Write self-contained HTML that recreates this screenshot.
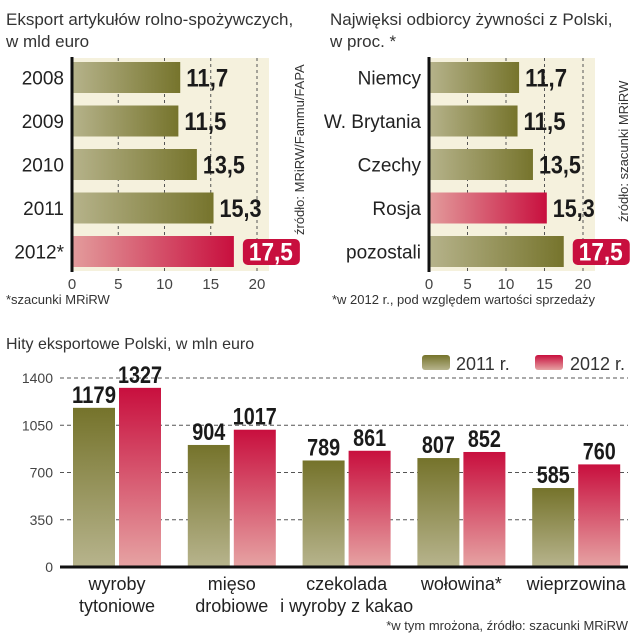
<!DOCTYPE html>
<html><head><meta charset="utf-8"><style>
body{margin:0;background:#fff;}
svg{display:block;font-family:"Liberation Sans",sans-serif;}
.t{font-size:17px;fill:#333;}
.lab{font-size:19px;fill:#222;}
.val{font-family:"Liberation Sans Narrow","Liberation Sans",sans-serif;font-weight:bold;font-size:25px;fill:#1a1a1a;}
.tick{font-size:15px;fill:#444;}
.small{font-size:13px;fill:#333;}
</style></head><body>
<svg id="c" width="640" height="640" viewBox="0 0 640 640">
<defs>
<linearGradient id="gh" x1="0" x2="1" y1="0" y2="0"><stop offset="0" stop-color="#b6b38b"/><stop offset="1" stop-color="#76742c"/></linearGradient>
<linearGradient id="rh" x1="0" x2="1" y1="0" y2="0"><stop offset="0" stop-color="#e39c9c"/><stop offset="1" stop-color="#c80f3e"/></linearGradient>
<linearGradient id="gv" x1="0" x2="0" y1="0" y2="1"><stop offset="0" stop-color="#75732b"/><stop offset="1" stop-color="#b7b48d"/></linearGradient>
<linearGradient id="rv" x1="0" x2="0" y1="0" y2="1"><stop offset="0" stop-color="#c80f3e"/><stop offset="1" stop-color="#e6a3a3"/></linearGradient>
</defs>
<text class="t" x="6" y="25">Eksport artykułów rolno-spożywczych,</text>
<text class="t" x="6" y="47">w mld euro</text>
<text class="t" x="330" y="25">Najwięksi odbiorcy  żywności z Polski,</text>
<text class="t" x="330" y="47">w proc. *</text>
<text class="small" transform="translate(304,235) rotate(-90)">źródło: MRiRW/Fammu/FAPA</text>
<text class="small" transform="translate(628,222) rotate(-90)">źródło: szacunki MRiRW</text>
<text class="small" x="6" y="304">*szacunki MRiRW</text>
<text class="small" x="332" y="304">*w 2012 r., pod względem wartości sprzedaży</text>
<text class="t" x="6" y="349" style="font-size:16px">Hity eksportowe Polski, w mln euro</text>
<rect x="422" y="355" width="28" height="15" rx="3" fill="url(#gv)"/>
<text class="t" x="456" y="370" style="font-size:18px">2011 r.</text>
<rect x="535" y="355" width="28" height="15" rx="3" fill="url(#rv)"/>
<text class="t" x="570" y="370" style="font-size:18px">2012 r.</text>
<text class="small" x="628" y="630" text-anchor="end">*w tym mrożona, źródło: szacunki MRiRW</text>
</svg>
<script>
const leftCats=["2008","2009","2010","2011","2012*"];
const leftVals=[11.7,11.5,13.5,15.3,17.5];
const rightCats=["Niemcy","W. Brytania","Czechy","Rosja","pozostali"];
const rightVals=[11.7,11.5,13.5,15.3,17.5];
const rightRed=[false,false,false,true,false];
const hTicks=[0,5,10,15,20];
const bCats=[["wyroby","tytoniowe"],["mięso","drobiowe"],["czekolada","i wyroby z kakao"],["wołowina*"],["wieprzowina"]];
const v2011=[1179,904,789,807,585];
const v2012=[1327,1017,861,852,760];
const yTicks=[0,350,700,1050,1400];

const svg=document.getElementById('c');
const NS="http://www.w3.org/2000/svg";
function mk(tag,attrs,parent){const e=document.createElementNS(NS,tag);for(const k in attrs)e.setAttribute(k,attrs[k]);(parent||svg).appendChild(e);return e;}

function hchart(prefix,cats,vals,x0,pxPer,lastRed,redBars){
  const g=mk('g',{});
  
  
  const bg=mk('rect',{x:x0,y:58,width:20*pxPer+12,height:213,fill:'#f5f1dd'},g);
  
  
  hTicks.forEach(t=>{
    const x=x0+t*pxPer;
    if(t>0){const l=mk('line',{x1:x,x2:x,y1:58,y2:272,stroke:'#555','stroke-dasharray':'3,3','stroke-width':1},g);
      
      }
    const tx=mk('text',{x:x,y:289,'text-anchor':'middle',class:'tick'},g);tx.textContent=t;
    
    
  });
  cats.forEach((c,i)=>{
    const y=62+i*43.5, h=31;
    const red=redBars?redBars[i]:(lastRed&&i===cats.length-1);
    const w=vals[i]*pxPer;
    const b=mk('rect',{x:x0,y:y,width:w,height:h,fill:red?'url(#rh)':'url(#gh)'},g);
    
    
    const lt=mk('text',{x:x0-8,y:y+h/2+7,'text-anchor':'end',class:'lab'},g);lt.textContent=c;
    
    
    const s=vals[i].toFixed(1).replace('.',',');
    if(i===cats.length-1){
      const bx=mk('rect',{x:x0+w+9,y:y+3,width:57,height:26,rx:5,fill:'#c80f3e'},g);
      
      
      const vt=mk('text',{x:x0+w+15,y:y+h/2+9,class:'val',style:'fill:#fff',textLength:44,lengthAdjust:'spacingAndGlyphs'},g);vt.textContent=s;
      
      
    } else {
      const vt=mk('text',{x:x0+w+6,y:y+h/2+9,class:'val',textLength:42,lengthAdjust:'spacingAndGlyphs'},g);vt.textContent=s;
      
      
    }
  });
  const ax=mk('line',{x1:x0,x2:x0,y1:57,y2:272,stroke:'#111','stroke-width':3},g);
  
  
}
hchart('left',leftCats,leftVals,72,9.25,true,null);
hchart('right',rightCats,rightVals,429,7.7,false,rightRed);

// bottom chart
const base=567, ppu=189/1400;
const yS=v=>base-v*ppu;
yTicks.forEach(t=>{
  if(t>0){const l=mk('line',{x1:60,x2:628,y1:yS(t),y2:yS(t),stroke:'#555','stroke-dasharray':'4,3'});
    
    }
  const tx=mk('text',{x:53,y:yS(t)+5,'text-anchor':'end',class:'tick',style:'font-size:14px'});tx.textContent=t;
  
  
});
bCats.forEach((c,i)=>{
  const gx=73+i*114.8, bw=42;
  [[v2011[i],'url(#gv)',gx,'2011'],[v2012[i],'url(#rv)',gx+46,'2012']].forEach(([v,f,x,yr])=>{
    const r=mk('rect',{x:x,y:yS(v),width:bw,height:v*ppu,fill:f});
    
    
    const L=String(v).length*11;
    const t=mk('text',{x:x+bw/2-L/2,y:yS(v)-5,class:'val',style:'font-size:24px',textLength:L,lengthAdjust:'spacingAndGlyphs'});t.textContent=v;
    
    
  });
  c.forEach((line,j)=>{
    const t=mk('text',{x:gx+44,y:590+j*22,'text-anchor':'middle',class:'lab',style:'font-size:18px'});t.textContent=line;
    
    
  });
});
const bx=mk('line',{x1:60,x2:628,y1:base,y2:base,stroke:'#111','stroke-width':3});


</script>
</body></html>
